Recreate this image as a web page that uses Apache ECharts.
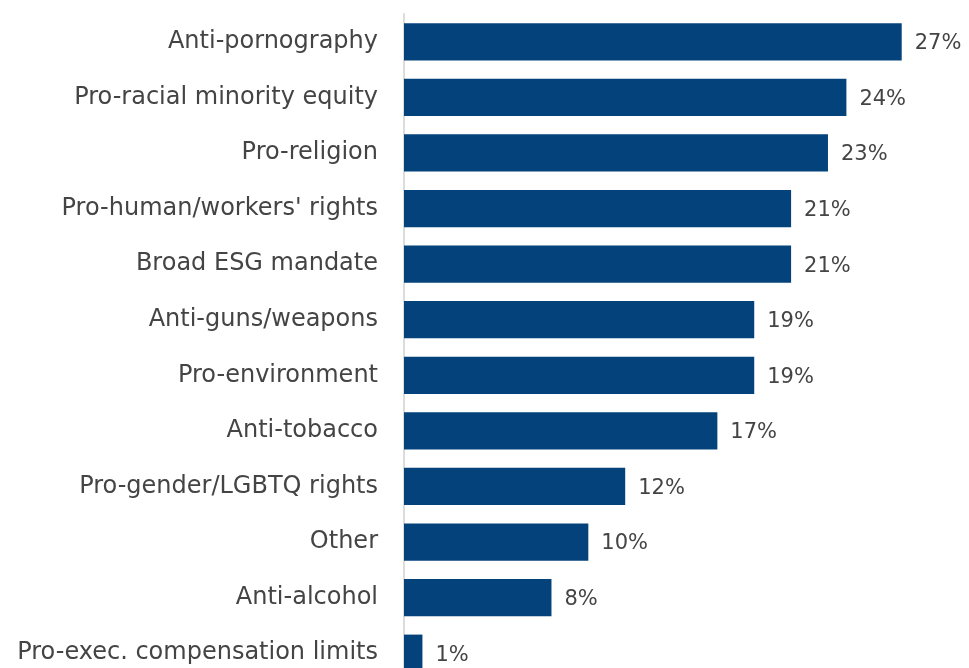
<!DOCTYPE html>
<html>
<head>
<meta charset="utf-8">
<script src="https://cdn.jsdelivr.net/npm/echarts@6/dist/echarts.min.js"></script>
<style>
  html, body { margin: 0; padding: 0; background: #ffffff; overflow: hidden; }
  /* the last row runs past the bottom edge of the view */
  #chart { width: 969px; height: 690px; }
</style>
</head>
<body>
<div id="chart"></div>
<script>
// Share of funds by screening theme (percent)
const categories = [
  'Anti-pornography',
  'Pro-racial minority equity',
  'Pro-religion',
  "Pro-human/workers' rights",
  'Broad ESG mandate',
  'Anti-guns/weapons',
  'Pro-environment',
  'Anti-tobacco',
  'Pro-gender/LGBTQ rights',
  'Other',
  'Anti-alcohol',
  'Pro-exec. compensation limits'
];
const shares = [27, 24, 23, 21, 21, 19, 19, 17, 12, 10, 8, 1];

const FONT = '"DejaVu Sans", sans-serif';
const chart = echarts.init(document.getElementById('chart'));
chart.setOption({
  animation: false,
  grid: { left: 404, right: 12, top: 14, bottom: 9, containLabel: false },
  xAxis: {
    type: 'value',
    min: 0,
    max: 30,
    show: false
  },
  yAxis: {
    type: 'category',
    inverse: true,
    data: categories,
    axisLine: { show: true, lineStyle: { color: '#dcdcdc', width: 2 } },
    axisTick: { show: false },
    axisLabel: {
      margin: 26,
      fontFamily: FONT,
      fontSize: 24,
      color: '#444444'
    }
  },
  series: [{
    type: 'bar',
    data: shares,
    barCategoryGap: '33%',
    itemStyle: { color: '#03427A' },
    label: {
      show: true,
      position: 'right',
      distance: 13,
      offset: [0, 2],
      formatter: '{c}%',
      fontFamily: FONT,
      fontSize: 21,
      color: '#444444'
    }
  }]
});
</script>
</body>
</html>
